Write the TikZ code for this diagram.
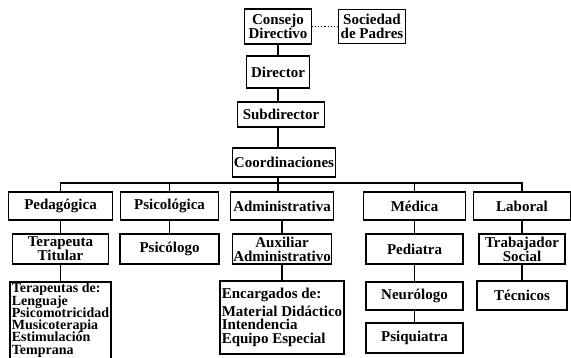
\documentclass[tikz,border=0pt]{standalone}
\usepackage{fontspec}
\setmainfont{Liberation Serif}
\usetikzlibrary{positioning}
\newcommand{\listafont}[2]{\fontsize{#1}{#2}\selectfont\bfseries\lineskiplimit=-20pt\relax}
\tikzset{cargo/.style={draw, line width=1.4pt, outer sep=0pt, align=center, inner sep=1pt}}
\tikzset{lista/.style={draw, line width=1.4pt, outer sep=0pt, align=left, inner sep=1.5pt, font={\listafont{15pt}{13.5pt}}}}
\tikzset{rama/.style={line width=1.4pt}}
\tikzset{enlace/.style={line width=1.2pt, dotted}}

\begin{document}
\begin{tikzpicture}[font=\fontsize{15}{14}\selectfont\bfseries, node distance=14pt]
\useasboundingbox (0,0) rectangle (571pt,-358pt);

\node[cargo, minimum width=67pt, minimum height=35pt] (consejo) at (278pt,-26.5pt) {Consejo\\Directivo};
\node[right=27pt of consejo, cargo, minimum width=67pt, minimum height=34pt] (sociedad) {Sociedad\\de Padres};
\node[below=12pt of consejo, cargo, minimum width=63pt, minimum height=32pt] (director) {Director};
\node[below=14pt of director, xshift=3pt, cargo, minimum width=87pt, minimum height=25pt] (subdirector) {Subdirector};
\node[below=21pt of subdirector, xshift=3pt, cargo, minimum width=103pt, minimum height=29pt] (coord) {Coordinaciones};

\node[below=15pt of coord, xshift=-2pt, cargo, minimum width=103pt, minimum height=28pt] (administrativa) {Administrativa};
\node[left=12pt of administrativa, cargo, minimum width=98pt, minimum height=28pt] (psicologica) {Psicológica};
\node[left=8pt of psicologica, cargo, minimum width=104pt, minimum height=28pt] (pedagogica) {Pedagógica};
\node[right=30pt of administrativa, cargo, minimum width=102pt, minimum height=28pt] (medica) {Médica};
\node[right=8pt of medica, cargo, minimum width=97pt, minimum height=28pt] (laboral) {Laboral};

\node[below=of pedagogica, cargo, minimum width=96pt, minimum height=30pt] (terapeuta) {Terapeuta\\Titular};
\node[below=of psicologica, cargo, minimum width=99pt, minimum height=30pt] (psicologo) {Psicólogo};
\node[below=of administrativa, cargo, minimum width=98pt, minimum height=30pt] (auxiliar) {Auxiliar\\Administrativo};
\node[below=of medica, cargo, minimum width=97pt, minimum height=30pt] (pediatra) {Pediatra};
\node[below=of laboral, cargo, minimum width=86pt, minimum height=30pt] (trabajador) {Trabajador\\Social};

\node[below=18pt of terapeuta, lista, font={\listafont{14pt}{12.3pt}}, inner sep=1pt, minimum width=101pt] (terapeutas) {Terapeutas de:\\Lenguaje\\Psicomotricidad\\Musicoterapia\\Estimulación\\Temprana\rule[-8pt]{0pt}{8pt}};
\node[below=17pt of auxiliar, lista, minimum width=124pt, minimum height=73pt] (encargados) {Encargados de:\\[4pt]Material Didáctico\\Intendencia\\Equipo Especial};
\node[below=18pt of pediatra, cargo, minimum width=97pt, minimum height=28pt] (neurologo) {Neurólogo};
\node[below=13pt of neurologo, cargo, minimum width=97pt, minimum height=30pt] (psiquiatra) {Psiquiatra};
\node[below=17pt of trabajador, cargo, minimum width=90pt, minimum height=29pt] (tecnicos) {Técnicos};

\coordinate[above=9pt of administrativa.north] (bus);

\draw[enlace] (consejo) -- (sociedad);
\draw[rama] (consejo) -- (director);
\draw[rama] (director) -- (director|-subdirector.north);
\draw[rama] (director|-subdirector.south) -- (director|-coord.north);
\draw[rama] (director|-coord.south) -- (director|-bus);
\draw[rama] (pedagogica) |- (bus) -| (laboral);
\draw[rama] (psicologica) -- (psicologica|-bus);
\draw[rama] (director|-bus) -- (director|-administrativa.north);
\draw[rama] (medica) -- (medica|-bus);
\draw[rama] (pedagogica) -- (terapeuta);
\draw[rama] (psicologica) -- (psicologo);
\draw[rama] (administrativa) -- (auxiliar);
\draw[rama] (medica) -- (pediatra);
\draw[rama] (laboral) -- (trabajador);
\draw[rama] (terapeuta) -- (terapeutas);
\draw[rama] (auxiliar) -- (encargados);
\draw[rama] (pediatra) -- (neurologo);
\draw[rama] (neurologo) -- (psiquiatra);
\draw[rama] (trabajador) -- (tecnicos);
\end{tikzpicture}
\end{document}
